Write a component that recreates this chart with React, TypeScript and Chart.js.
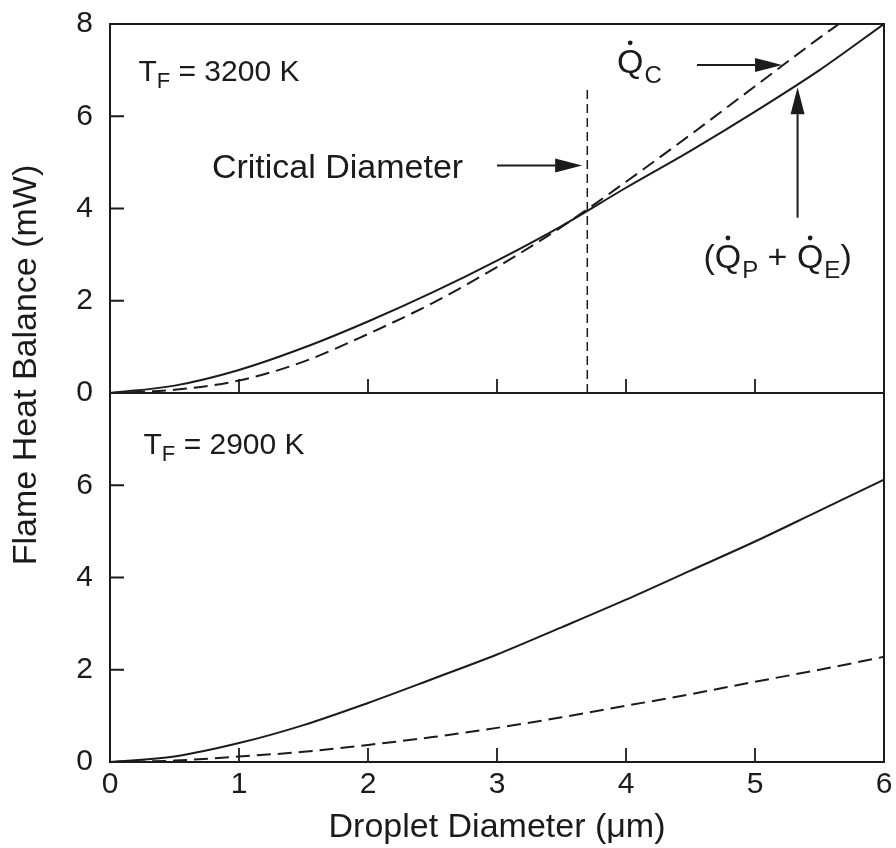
import React, { useEffect, useRef } from "react";
import { Chart, registerables } from "chart.js";

Chart.register(...registerables);

// ---- data ----
const diameters = [0, 0.5, 1, 1.5, 2, 2.5, 3, 3.5, 4, 4.5, 5, 5.5, 6];
// T_F = 3200 K
const qpqe3200 = [0, 0.16, 0.5, 0.98, 1.55, 2.18, 2.87, 3.62, 4.45, 5.25, 6.1, 7.0, 8.0];
const qcDiam3200 = [0, 0.5, 1, 1.5, 2, 2.5, 3, 3.5, 4, 4.5, 5, 5.5, 5.65];
const qc3200 = [0, 0.07, 0.27, 0.68, 1.28, 1.95, 2.73, 3.6, 4.58, 5.6, 6.65, 7.7, 8.0];
// T_F = 2900 K
const qpqe2900 = [0, 0.12, 0.41, 0.8, 1.28, 1.8, 2.33, 2.92, 3.52, 4.15, 4.78, 5.45, 6.12];
const qc2900 = [0, 0.03, 0.12, 0.22, 0.37, 0.54, 0.74, 0.97, 1.22, 1.47, 1.74, 2.0, 2.28];

const criticalDiameter = 3.7;
const criticalLineTop = 6.6;

const xTickValues = [1, 2, 3, 4, 5];
const yTickValues = [2, 4, 6];

const xTitle = "Droplet Diameter (\u03bcm)";
const yTitle = "Flame Heat Balance (mW)";

const FONT = '"Liberation Sans", Arial, Helvetica, sans-serif';
const INK = "#1b1b1b";

function pts(xs: number[], ys: number[]) {
  return xs.map((x, i) => ({ x, y: ys[i] }));
}

function arrow(ctx: CanvasRenderingContext2D, x1: number, y1: number, x2: number, y2: number, headLen = 27, headW = 7) {
  const a = Math.atan2(y2 - y1, x2 - x1);
  const c = Math.cos(a), s = Math.sin(a);
  const bx = x2 - headLen * c, by = y2 - headLen * s;
  ctx.beginPath();
  ctx.moveTo(x1, y1);
  ctx.lineTo(bx, by);
  ctx.stroke();
  ctx.beginPath();
  ctx.moveTo(x2, y2);
  ctx.lineTo(bx + headW * s, by - headW * c);
  ctx.lineTo(bx - headW * s, by + headW * c);
  ctx.closePath();
  ctx.fill();
}

function drawQdot(ctx: CanvasRenderingContext2D, x: number, y: number, size: number, sub: string) {
  ctx.font = `${size}px ${FONT}`;
  ctx.fillText("Q", x, y);
  const w = ctx.measureText("Q").width;
  ctx.beginPath();
  ctx.arc(x + w / 2, y - size * 0.72 - 6, 2.4, 0, Math.PI * 2);
  ctx.fill();
  const ss = Math.round(size * 0.72);
  ctx.font = `${ss}px ${FONT}`;
  ctx.fillText(sub, x + w + 1, y + size * 0.28);
  return x + w + 1 + ctx.measureText(sub).width;
}

function drawT(ctx: CanvasRenderingContext2D, x: number, y: number, size: number, rest: string) {
  ctx.font = `${size}px ${FONT}`;
  ctx.fillText("T", x, y);
  let cx = x + ctx.measureText("T").width;
  const ss = Math.round(size * 0.72);
  ctx.font = `${ss}px ${FONT}`;
  ctx.fillText("F", cx, y + size * 0.22);
  cx += ctx.measureText("F").width;
  ctx.font = `${size}px ${FONT}`;
  ctx.fillText(rest, cx, y);
}

const decorPlugin = {
  id: "decor",
  afterDraw(chart: any) {
    const ctx: CanvasRenderingContext2D = chart.ctx;
    const xs = chart.scales.x;
    const yt = chart.scales.yTop;
    const yb = chart.scales.yBottom;
    const ca = chart.chartArea;
    ctx.save();
    ctx.strokeStyle = INK;
    ctx.fillStyle = INK;
    ctx.lineWidth = 2;
    // frame
    ctx.strokeRect(ca.left, ca.top, ca.right - ca.left, ca.bottom - ca.top);
    const mid = yt.getPixelForValue(0);
    ctx.beginPath();
    ctx.moveTo(ca.left, mid);
    ctx.lineTo(ca.right, mid);
    ctx.stroke();
    // inward ticks
    const tl = 14;
    ctx.lineWidth = 1.8;
    ctx.beginPath();
    for (const sc of [yt, yb]) {
      for (const v of yTickValues) {
        const py = sc.getPixelForValue(v);
        ctx.moveTo(ca.left, py);
        ctx.lineTo(ca.left + tl, py);
      }
      const base = sc.getPixelForValue(0);
      for (const v of xTickValues) {
        const px = xs.getPixelForValue(v);
        ctx.moveTo(px, base);
        ctx.lineTo(px, base - tl);
      }
    }
    ctx.stroke();

    // annotations
    ctx.textBaseline = "alphabetic";
    ctx.textAlign = "left";
    ctx.lineWidth = 2;
    drawT(ctx, xs.getPixelForValue(0.22), yt.getPixelForValue(6.76), 30, " = 3200 K");
    drawT(ctx, xs.getPixelForValue(0.26), yb.getPixelForValue(6.67), 30, " = 2900 K");

    ctx.font = `34px ${FONT}`;
    ctx.fillText("Critical Diameter", xs.getPixelForValue(0.79), yt.getPixelForValue(4.67));
    arrow(ctx, xs.getPixelForValue(3.0), yt.getPixelForValue(4.93), xs.getPixelForValue(3.66), yt.getPixelForValue(4.93));

    drawQdot(ctx, xs.getPixelForValue(3.93), yt.getPixelForValue(6.93), 34, "C");
    arrow(ctx, xs.getPixelForValue(4.55), yt.getPixelForValue(7.11), xs.getPixelForValue(5.21), yt.getPixelForValue(7.11));

    arrow(ctx, xs.getPixelForValue(5.33), yt.getPixelForValue(3.8), xs.getPixelForValue(5.33), yt.getPixelForValue(6.63));
    const by = yt.getPixelForValue(2.7);
    let cx = xs.getPixelForValue(4.6);
    ctx.font = `34px ${FONT}`;
    ctx.fillText("(", cx, by);
    cx += ctx.measureText("(").width;
    cx = drawQdot(ctx, cx, by, 34, "P");
    ctx.font = `34px ${FONT}`;
    ctx.fillText(" + ", cx, by);
    cx += ctx.measureText(" + ").width;
    cx = drawQdot(ctx, cx, by, 34, "E");
    ctx.font = `34px ${FONT}`;
    ctx.fillText(")", cx, by);

    // y-axis title
    ctx.save();
    ctx.translate(27, (ca.top + ca.bottom) / 2 - 28);
    ctx.rotate(-Math.PI / 2);
    ctx.textAlign = "center";
    ctx.textBaseline = "middle";
    ctx.font = `34px ${FONT}`;
    ctx.fillText(yTitle, 0, 0);
    ctx.restore();

    ctx.restore();
  },
};

export default function App() {
  const ref = useRef<HTMLCanvasElement | null>(null);

  useEffect(() => {
    document.body.style.margin = "0";
    const canvas = ref.current;
    if (!canvas) return;
    const lineBase = {
      pointRadius: 0,
      borderColor: INK,
      borderWidth: 2,
      fill: false,
      tension: 0.4,
      cubicInterpolationMode: "monotone" as const,
    };
    const yScale = (hideTop: boolean) => ({
      type: "linear" as const,
      position: "left" as const,
      stack: "panels",
      stackWeight: 1,
      min: 0,
      max: 8,
      afterFit: (s: any) => {
        s.width = 110;
        s.paddingTop = 0;
        s.paddingBottom = 0;
      },
      grid: { display: false, drawTicks: false },
      border: { display: false },
      ticks: {
        stepSize: 2,
        autoSkip: false,
        padding: 17,
        color: INK,
        font: { family: FONT, size: 30 },
        callback: (v: any) => (hideTop && v === 8 ? "" : String(v)),
      },
    });

    const chart = new Chart(canvas, {
      type: "line",
      data: {
        datasets: [
          { ...lineBase, label: "QP+QE 3200", data: pts(diameters, qpqe3200), yAxisID: "yTop" },
          { ...lineBase, label: "QC 3200", data: pts(qcDiam3200, qc3200), yAxisID: "yTop", borderDash: [14, 7] },
          { ...lineBase, label: "QP+QE 2900", data: pts(diameters, qpqe2900), yAxisID: "yBottom" },
          { ...lineBase, label: "QC 2900", data: pts(diameters, qc2900), yAxisID: "yBottom", borderDash: [14, 7] },
          {
            label: "Critical Diameter",
            data: [
              { x: criticalDiameter, y: 0 },
              { x: criticalDiameter, y: criticalLineTop },
            ],
            yAxisID: "yTop",
            pointRadius: 0,
            borderColor: INK,
            borderWidth: 1.5,
            borderDash: [9, 5],
            tension: 0,
            fill: false,
          },
        ],
      },
      options: {
        animation: false,
        responsive: false,
        events: [],
        layout: { padding: { top: 24, right: 12, left: 0, bottom: 0 } },
        plugins: { legend: { display: false }, tooltip: { enabled: false } },
        scales: {
          x: {
            type: "linear",
            position: "bottom",
            min: 0,
            max: 6,
            afterFit: (s: any) => {
              s.height = 86;
              s.paddingLeft = 0;
              s.paddingRight = 0;
            },
            grid: { display: false, drawTicks: false },
            border: { display: false },
            ticks: {
              stepSize: 1,
              autoSkip: false,
              maxRotation: 0,
              padding: 5,
              color: INK,
              font: { family: FONT, size: 30 },
            },
            title: {
              display: true,
              text: xTitle,
              color: INK,
              font: { family: FONT, size: 34 },
              padding: { top: 0, bottom: 0 },
            },
          },
          yBottom: yScale(true),
          yTop: yScale(false),
        },
      },
      plugins: [decorPlugin],
    } as any);
    return () => chart.destroy();
  }, []);

  return <canvas ref={ref} width={896} height={848} style={{ display: "block" }} />;
}
